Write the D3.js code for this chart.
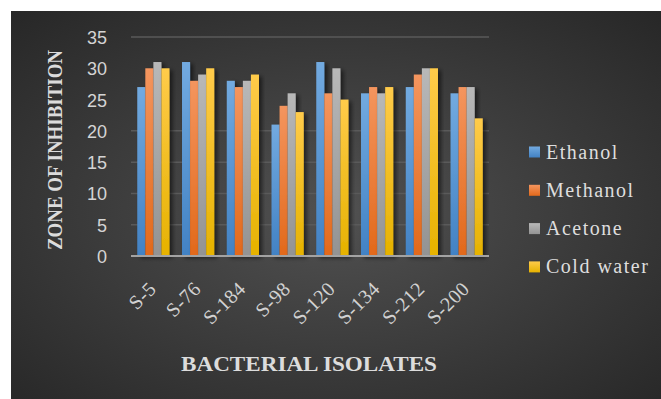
<!DOCTYPE html>
<html>
<head>
<meta charset="utf-8">
<script src="https://cdn.jsdelivr.net/npm/d3@7"></script>
<style>
  html, body { margin: 0; padding: 0; background: #ffffff; }
  svg { display: block; }
</style>
</head>
<body>
<svg id="chart" width="661" height="399"></svg>
<script>
// Zone of inhibition (mm) per bacterial isolate and extract solvent
const categories = ["S-5", "S-76", "S-184", "S-98", "S-120", "S-134", "S-212", "S-200"];
const seriesNames = ["Ethanol", "Methanol", "Acetone", "Cold water"];
const ethanol   = [27, 31, 28, 21, 31, 26, 27, 26];
const methanol  = [30, 28, 27, 24, 26, 27, 29, 27];
const acetone   = [31, 29, 28, 26, 30, 26, 30, 27];
const coldWater = [30, 30, 29, 23, 25, 27, 30, 22];
const yTicks = [0, 5, 10, 15, 20, 25, 30, 35];
const gridTicks = [5, 10, 15, 20, 35];

const seriesValues = [ethanol, methanol, acetone, coldWater];
const palette = [
  { top: "#72aae0", bottom: "#4282c4" },
  { top: "#f4955e", bottom: "#e2691b" },
  { top: "#b8b8b8", bottom: "#939393" },
  { top: "#ffcb4a", bottom: "#e6b200" }
];

const svg = d3.select("#chart");
const defs = svg.append("defs");

// dark radial backdrop
const bg = defs.append("radialGradient").attr("id", "bg")
  .attr("cx", "50%").attr("cy", "52%").attr("r", "72%");
bg.append("stop").attr("offset", "0%").attr("stop-color", "#515151");
bg.append("stop").attr("offset", "100%").attr("stop-color", "#272727");

palette.forEach((p, i) => {
  const g = defs.append("linearGradient").attr("id", "fill" + i)
    .attr("x1", 0).attr("y1", 0).attr("x2", 0).attr("y2", 1);
  g.append("stop").attr("offset", "0%").attr("stop-color", p.top);
  g.append("stop").attr("offset", "100%").attr("stop-color", p.bottom);
});

const shadow = defs.append("filter").attr("id", "shadow")
  .attr("x", "-50%").attr("y", "-10%").attr("width", "220%").attr("height", "130%");
shadow.append("feDropShadow").attr("dx", 3).attr("dy", 2).attr("stdDeviation", 2.2)
  .attr("flood-color", "#000").attr("flood-opacity", 0.55);

svg.append("rect").attr("x", 11).attr("y", 11).attr("width", 650).attr("height", 388)
  .attr("fill", "url(#bg)");

const plot = { left: 131, right: 489, top: 37, bottom: 256 };

const x0 = d3.scaleBand().domain(categories)
  .range([plot.left, plot.right]).paddingInner(0.28).paddingOuter(0.14);
const x1 = d3.scaleBand().domain(seriesNames).range([0, x0.bandwidth()]);
const y = d3.scaleLinear().domain([0, 35]).range([plot.bottom, plot.top]);

// gridlines
svg.append("g").selectAll("line").data(gridTicks).join("line")
  .attr("x1", plot.left).attr("x2", plot.right)
  .attr("y1", d => y(d)).attr("y2", d => y(d))
  .attr("stroke", "#5a5a5a").attr("stroke-width", 1.5);

// y axis labels
const yAxis = d3.axisLeft(y).tickValues(yTicks).tickSize(0).tickPadding(0);
svg.append("g").attr("transform", "translate(107,0)").call(yAxis)
  .call(g => g.select(".domain").remove())
  .selectAll("text")
  .attr("fill", "#d4d4d4")
  .style("font-family", "'Liberation Sans', Arial, sans-serif")
  .style("font-size", "18px")
  .attr("dy", "0.36em");

// bars
const groups = svg.append("g").selectAll("g").data(categories).join("g")
  .attr("transform", d => `translate(${x0(d)},0)`);
groups.selectAll("rect")
  .data((c, ci) => seriesNames.map((s, si) => ({ s, si, v: seriesValues[si][ci] })))
  .join("rect")
  .attr("x", d => x1(d.s))
  .attr("width", x1.bandwidth())
  .attr("y", d => y(d.v))
  .attr("height", d => y(0) - y(d.v))
  .attr("fill", d => `url(#fill${d.si})`)
  .attr("filter", "url(#shadow)");

// x axis line and rotated category labels
const xAxis = d3.axisBottom(x0).tickSize(0).tickPadding(0);
const xg = svg.append("g").attr("transform", `translate(0,${plot.bottom})`).call(xAxis);
xg.select(".domain").attr("stroke", "#a3a3a3").attr("stroke-width", 2.2)
  .attr("d", `M${plot.left},0H${plot.right}`);
xg.selectAll("text")
  .attr("fill", "#d2d2d2")
  .style("font-family", "'Liberation Serif', 'Times New Roman', serif")
  .style("font-size", "20px")
  .style("letter-spacing", "0.5px")
  .attr("text-anchor", "end")
  .attr("dy", 0)
  .attr("transform", "translate(4,34) rotate(-45)");

// axis titles
svg.append("text")
  .attr("transform", "translate(62,150) rotate(-90)")
  .attr("text-anchor", "middle")
  .attr("fill", "#dcdcdc")
  .style("font-family", "'Liberation Serif', 'Times New Roman', serif")
  .style("font-weight", "bold")
  .style("font-size", "21px")
  .attr("textLength", 200).attr("lengthAdjust", "spacingAndGlyphs")
  .text("ZONE OF INHIBITION");

svg.append("text")
  .attr("x", 309).attr("y", 371)
  .attr("text-anchor", "middle")
  .attr("fill", "#dcdcdc")
  .style("font-family", "'Liberation Serif', 'Times New Roman', serif")
  .style("font-weight", "bold")
  .style("font-size", "20px")
  .attr("textLength", 256).attr("lengthAdjust", "spacingAndGlyphs")
  .text("BACTERIAL ISOLATES");

// legend
const legend = svg.append("g").selectAll("g").data(seriesNames).join("g")
  .attr("transform", (d, i) => `translate(529,${152 + i * 38.3})`);
legend.append("rect").attr("x", 0).attr("y", -5.5).attr("width", 11).attr("height", 11)
  .attr("fill", (d, i) => `url(#fill${i})`);
legend.append("text").attr("x", 17).attr("y", 6.5)
  .attr("fill", "#dedede")
  .style("font-family", "'Liberation Serif', 'Times New Roman', serif")
  .style("font-size", "20px")
  .style("letter-spacing", "1.5px")
  .text(d => d);
</script>
</body>
</html>
